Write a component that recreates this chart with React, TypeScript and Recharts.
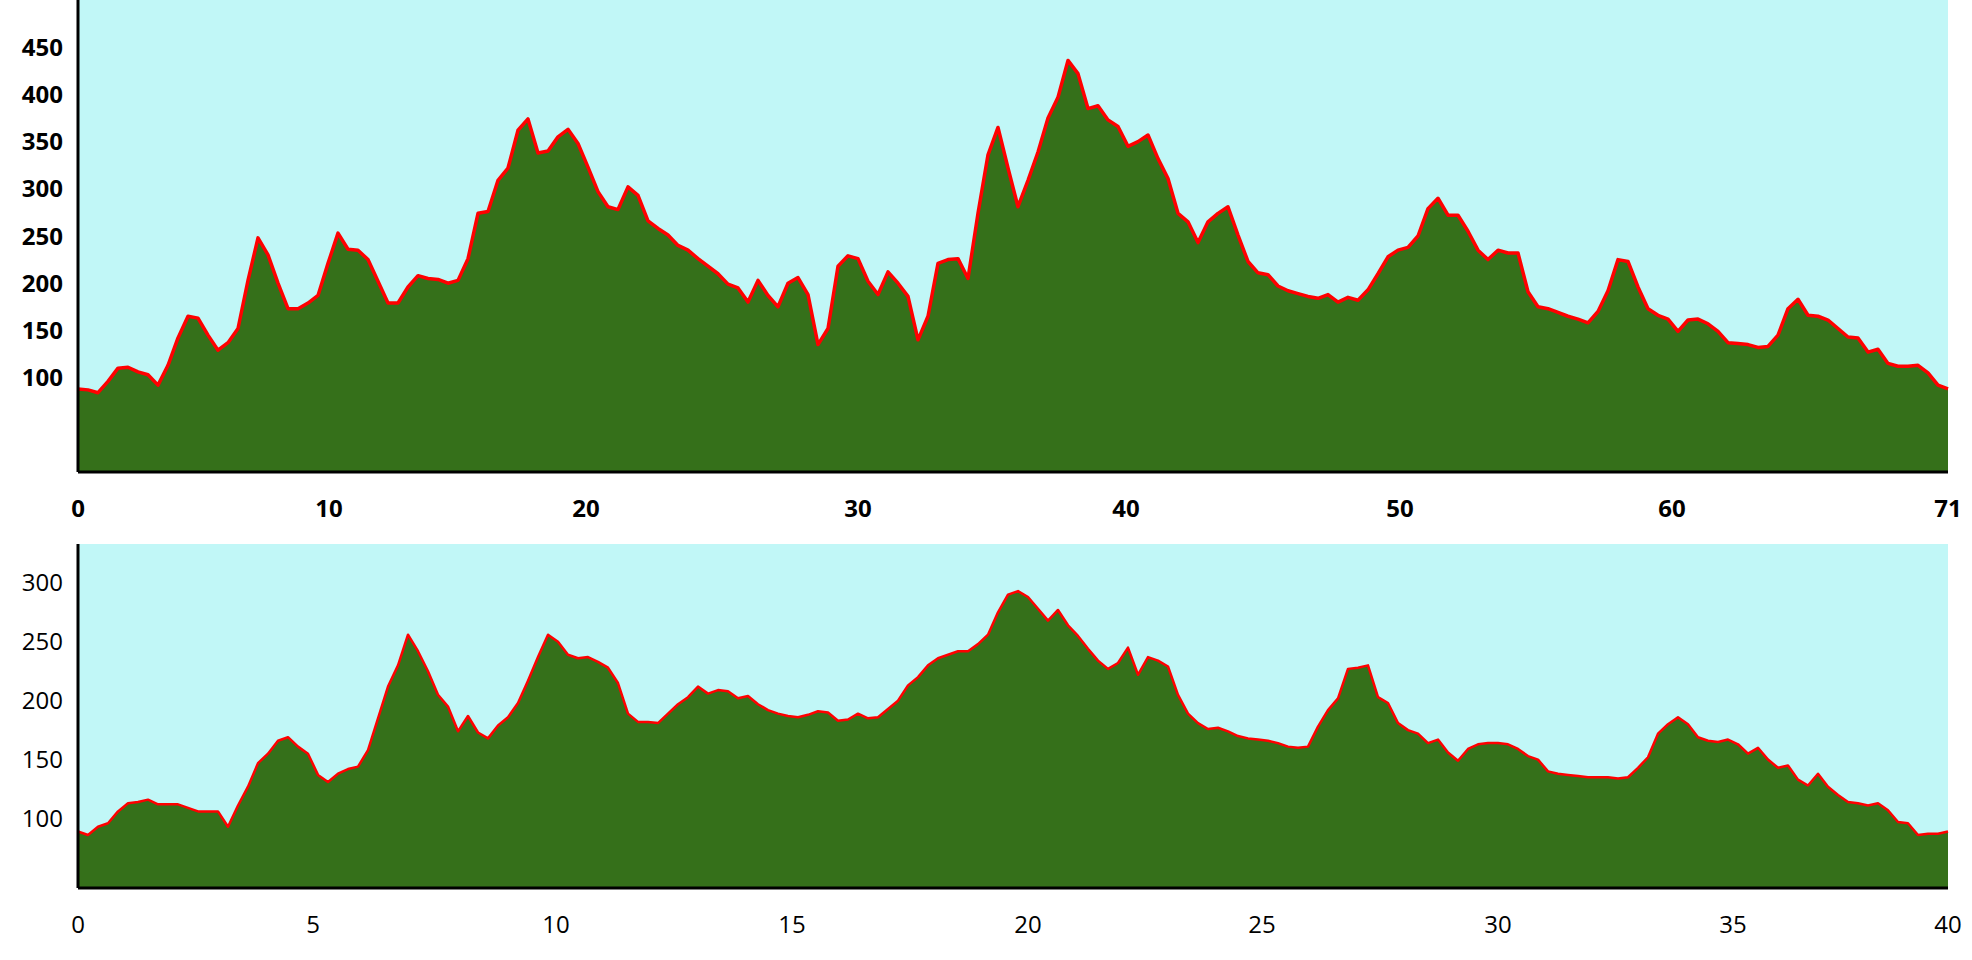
import { Area, AreaChart, CartesianGrid, XAxis, YAxis } from "recharts"

// elevation (m), sampled at even steps along the track
const upperElevation = [
  88, 87, 84, 96, 110, 111, 106, 103, 92, 113,
  142, 165, 163, 145, 129, 137, 152, 203, 248, 230,
  200, 173, 173, 179, 187, 221, 253, 236, 235, 225,
  202, 179, 179, 196, 208, 205, 204, 200, 203, 226,
  274, 276, 309, 322, 362, 374, 338, 340, 355, 363,
  348, 323, 297, 281, 278, 302, 293, 266, 258, 251,
  240, 235, 226, 218, 210, 199, 195, 180, 203, 187,
  175, 200, 206, 188, 135, 152, 218, 229, 226, 202,
  188, 212, 200, 186, 140, 165, 221, 225, 226, 205,
  274, 336, 365, 322, 281, 309, 339, 375, 397, 436,
  422, 385, 388, 373, 366, 345, 350, 357, 332, 311,
  274, 265, 243, 265, 274, 281, 251, 223, 211, 209,
  197, 192, 189, 186, 184, 188, 180, 185, 182, 193,
  210, 228, 235, 238, 250, 279, 290, 272, 272, 255,
  235, 225, 235, 232, 232, 191, 175, 173, 169, 165,
  162, 158, 170, 192, 225, 223, 196, 173, 166, 162,
  149, 161, 162, 157, 149, 137, 136, 135, 132, 133,
  145, 173, 183, 166, 165, 161, 152, 143, 142, 127,
  130, 115, 112, 112, 113, 105, 92, 88,
]

const lowerElevation = [
  89, 86, 93, 96, 106, 113, 114, 116, 112, 112,
  112, 109, 106, 106, 106, 93, 111, 127, 147, 155,
  166, 169, 161, 155, 137, 131, 138, 142, 144, 158,
  185, 212, 230, 256, 242, 225, 205, 195, 174, 187,
  173, 168, 179, 186, 198, 217, 237, 256, 250, 239,
  236, 237, 233, 228, 215, 189, 182, 182, 181, 189,
  197, 203, 212, 206, 209, 208, 202, 204, 197, 192,
  189, 187, 186, 188, 191, 190, 183, 184, 189, 185,
  186, 193, 200, 213, 220, 230, 236, 239, 242, 242,
  248, 256, 275, 290, 293, 288, 278, 268, 277, 264,
  255, 244, 234, 227, 232, 245, 222, 237, 234, 229,
  205, 189, 181, 176, 177, 174, 170, 168, 167, 166,
  164, 161, 160, 161, 178, 192, 202, 227, 228, 230,
  203, 198, 181, 175, 172, 164, 167, 156, 149, 159,
  163, 164, 164, 163, 159, 153, 150, 140, 138, 137,
  136, 135, 135, 135, 134, 135, 143, 152, 172, 180,
  186, 180, 169, 166, 165, 167, 163, 155, 160, 150,
  143, 145, 133, 128, 138, 127, 120, 114, 113, 111,
  113, 107, 97, 96, 86, 87, 87, 89,
]

// km markers and the sample where each one falls
const upperKmLabels = [0, 10, 20, 30, 40, 50, 60, 71]
const upperKmAt = [0, 25.1, 50.8, 78, 104.8, 132.2, 159.4, 187]
const lowerKmLabels = [0, 5, 10, 15, 20, 25, 30, 35, 40]
const lowerKmAt = [0, 23.5, 47.8, 71.4, 95, 118.4, 142, 165.5, 187]

const upperElevTicks = [100, 150, 200, 250, 300, 350, 400, 450]
const lowerElevTicks = [100, 150, 200, 250, 300]

interface ProfileProps {
  elevation: number[]
  kmLabels: number[]
  kmAt: number[]
  yDomain: [number, number]
  yTicks: number[]
  height: number
  axisHeight: number
  lineWidth: number
  fontWeight: number
}

function Profile({ elevation, kmLabels, kmAt, yDomain, yTicks, height, axisHeight, lineWidth, fontWeight }: ProfileProps) {
  const data = elevation.map((elev, i) => ({ i, elev }))
  const tickStyle = { fill: "#000", fontSize: 24, fontFamily: "'Open Sans', sans-serif", fontWeight }
  return (
    <AreaChart width={1972} height={height} data={data} margin={{ top: 0, right: 24, bottom: 0, left: 0 }}>
      <CartesianGrid fill="#C1F7F7" horizontal={false} vertical={false} />
      <XAxis
        type="number"
        dataKey="i"
        domain={[0, elevation.length - 1]}
        ticks={kmAt}
        interval={0}
        tickFormatter={(v) => String(kmLabels[kmAt.indexOf(v)])}
        height={axisHeight}
        tickLine={false}
        tickSize={0}
        tickMargin={28}
        axisLine={{ stroke: "#000", strokeWidth: 3 }}
        tick={tickStyle}
      />
      <YAxis
        type="number"
        domain={yDomain}
        ticks={yTicks}
        interval={0}
        width={78}
        tickLine={false}
        tickSize={0}
        tickMargin={15}
        axisLine={{ stroke: "#000", strokeWidth: 3 }}
        tick={tickStyle}
      />
      <Area
        type="linear"
        dataKey="elev"
        stroke="#FF0000"
        strokeWidth={lineWidth}
        strokeLinejoin="round"
        fill="#35701A"
        fillOpacity={1}
        dot={false}
        activeDot={false}
        isAnimationActive={false}
      />
    </AreaChart>
  )
}

export default function App() {
  return (
    <div style={{ position: "absolute", left: 0, top: 0, width: 1972, height: 960, background: "#fff" }}>
      <div style={{ position: "absolute", left: 0, top: 0 }}>
        <Profile
          elevation={upperElevation}
          kmLabels={upperKmLabels}
          kmAt={upperKmAt}
          yDomain={[0, 500]}
          yTicks={upperElevTicks}
          height={530}
          axisHeight={58}
          lineWidth={3.5}
          fontWeight={700}
        />
      </div>
      <div style={{ position: "absolute", left: 0, top: 544 }}>
        <Profile
          elevation={lowerElevation}
          kmLabels={lowerKmLabels}
          kmAt={lowerKmAt}
          yDomain={[41, 333]}
          yTicks={lowerElevTicks}
          height={416}
          axisHeight={72}
          lineWidth={2.5}
          fontWeight={400}
        />
      </div>
    </div>
  )
}
